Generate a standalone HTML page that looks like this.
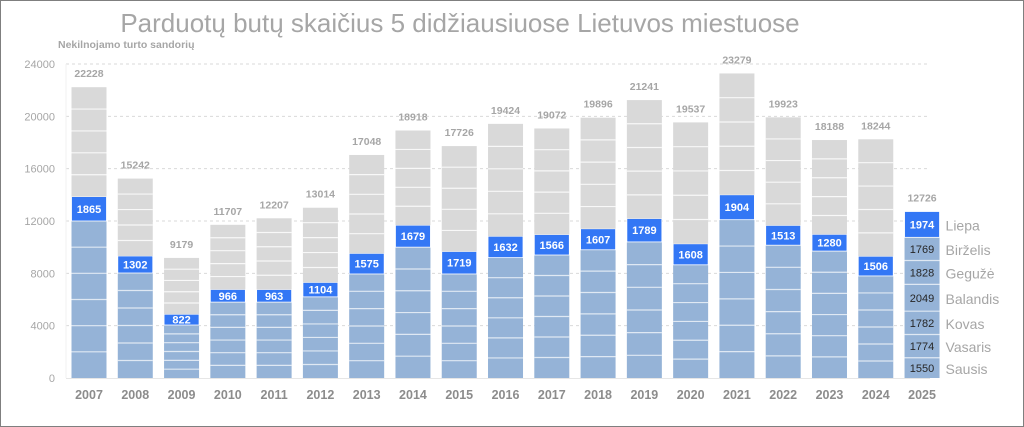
<!DOCTYPE html>
<html><head><meta charset="utf-8"><style>
html,body{margin:0;padding:0;background:#fff}
svg{display:block;font-family:"Liberation Sans",sans-serif}
</style></head><body>
<svg id="chart" width="1024" height="427" viewBox="0 0 1024 427">
<rect x="0.5" y="0.5" width="1023" height="426" fill="#fff" stroke="#7f7f7f"/>
<text x="460" y="32" text-anchor="middle" font-size="26" fill="#a6a6a6">Parduotų butų skaičius 5 didžiausiuose Lietuvos miestuose</text>
<text x="58" y="48" font-size="10.5" font-weight="bold" fill="#a6a6a6">Nekilnojamo turto sandorių</text>
<g id="grid"></g><g id="bars"></g><g id="labels"></g>
</svg>
<script>
const years=["2007","2008","2009","2010","2011","2012","2013","2014","2015","2016","2017","2018","2019","2020","2021","2022","2023","2024","2025"];
const totals=[22228,15242,9179,11707,12207,13014,17048,18918,17726,19424,19072,19896,21241,19537,23279,19923,18188,18244,12726];
const julyValues=[1865,1302,822,966,963,1104,1575,1679,1719,1632,1566,1607,1789,1608,1904,1513,1280,1506,1974];
const h1Values=[12000,8025,4050,5800,5800,6200,7950,10000,7950,9200,9400,9800,10400,8650,12100,10150,9700,7800,10752];
const months2025=[1550,1774,1782,2049,1828,1769];
const monthNames=["Sausis","Vasaris","Kovas","Balandis","Gegužė","Birželis","Liepa"];
const yTicks=[0,4000,8000,12000,16000,20000,24000];
const NS="http://www.w3.org/2000/svg";
const y0=378,yTop=64,yMax=24000;
const Y=v=>y0-(y0-yTop)*v/yMax;
const X=i=>89+i*46.28;
const bw=35;
function mk(tag,attrs,parent,txt){const e=document.createElementNS(NS,tag);for(const k in attrs)e.setAttribute(k,attrs[k]);if(txt!==undefined)e.textContent=txt;parent.appendChild(e);return e;}
const grid=document.getElementById('grid'),bars=document.getElementById('bars'),labels=document.getElementById('labels');
yTicks.forEach(t=>{
  if(t>0){const l=mk('line',{x1:66,x2:930,y1:Y(t),y2:Y(t),stroke:'#d9d9d9','stroke-dasharray':'3,3'},grid);
  
  }
  const tx=mk('text',{x:55,y:Y(t)+4,'text-anchor':'end','font-size':11,fill:'#a6a6a6'},grid,String(t));
  
  
});
const ax=mk('line',{x1:66,x2:66,y1:yTop,y2:y0,stroke:'#f0f0f0'},grid);


const bx=mk('line',{x1:66,x2:930,y1:y0+0.5,y2:y0+0.5,stroke:'#e6e6e6'},grid);


years.forEach((yr,i)=>{
  const cx=X(i),x=cx-bw/2,h1=h1Values[i],jul=julyValues[i],tot=totals[i];
  const g=mk('g',{},bars);
  
  
  const last=i===years.length-1;
  // H1 blue
  const b=mk('rect',{x:x,y:Y(h1),width:bw,height:Y(0)-Y(h1),fill:'#95b3d7'},g);
  
  
  let cum=0;
  for(let m=0;m<5;m++){
    cum+= last?months2025[m]:h1/6;
    mk('line',{x1:x,x2:x+bw,y1:Y(cum),y2:Y(cum),stroke:'#fff','stroke-opacity':0.7,'stroke-width':1.2},g);
  }
  // July
  const j=mk('rect',{x:x,y:Y(h1+jul),width:bw,height:Y(h1)-Y(h1+jul),fill:'#3377f5',stroke:'#fff','stroke-width':0.8},g);
  
  
  const jt=mk('text',{x:cx,y:(Y(h1)+Y(h1+jul))/2+4,'text-anchor':'middle','font-size':11,'font-weight':'bold',fill:'#fff'},labels,String(jul));
  
  
  // rest gray
  if(tot>h1+jul){
    const r=mk('rect',{x:x,y:Y(tot),width:bw,height:Y(h1+jul)-Y(tot),fill:'#d9d9d9'},g);
    
    
    const rest=tot-h1-jul;let c=h1+jul;
    for(let m=0;m<4;m++){c+=rest/5;mk('line',{x1:x,x2:x+bw,y1:Y(c),y2:Y(c),stroke:'#fff','stroke-opacity':0.8,'stroke-width':1.2},g);}
  }
  const tl=mk('text',{x:cx,y:Y(tot)-10,'text-anchor':'middle','font-size':10.5,'font-weight':'bold',fill:'#a6a6a6'},labels,String(tot));
  
  
  const xl=mk('text',{x:cx,y:399,'text-anchor':'middle','font-size':12.5,'font-weight':'bold',fill:'#8c8c8c'},labels,yr);
  
  
  if(last){
    let c=0;
    months2025.forEach((v,m)=>{
      const mid=Y(c+v/2);c+=v;
      const t=mk('text',{x:cx,y:mid+4,'text-anchor':'middle','font-size':11,fill:'#262626'},labels,String(v));
      
      
    });
    let cc=0;
    monthNames.forEach((n,m)=>{
      const v=m<6?months2025[m]:jul;const mid=Y(cc+v/2);cc+=v;
      const t=mk('text',{x:x+bw+6,y:mid+6,'font-size':14,fill:'#a6a6a6'},labels,n);
      
      
    });
  }
});
</script>
</body></html>
